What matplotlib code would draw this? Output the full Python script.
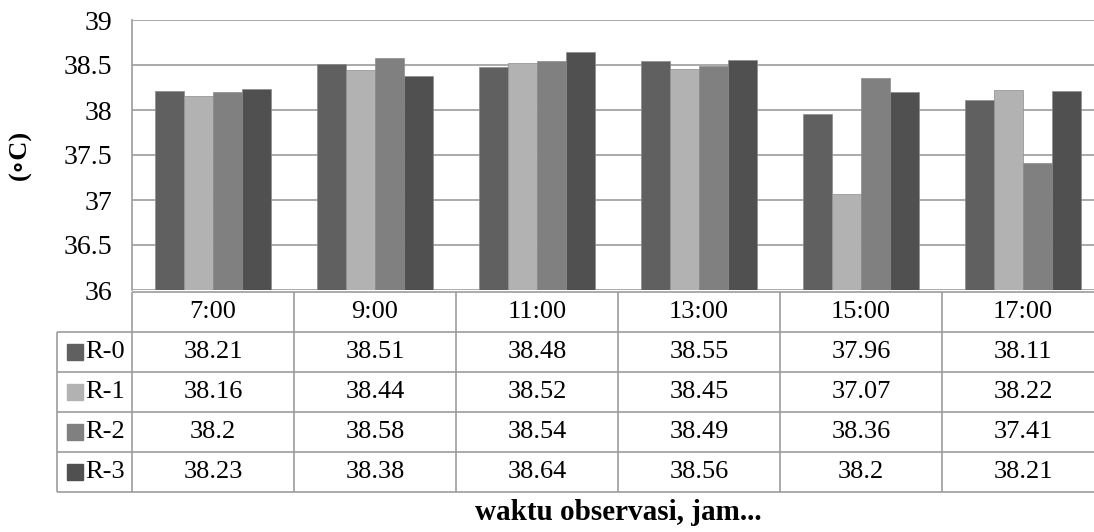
import numpy as np
import matplotlib.pyplot as plt

# data
times = ['7:00', '9:00', '11:00', '13:00', '15:00', '17:00']
series = ['R-0', 'R-1', 'R-2', 'R-3']
r0 = [38.21, 38.51, 38.48, 38.55, 37.96, 38.11]
r1 = [38.16, 38.44, 38.52, 38.45, 37.07, 38.22]
r2 = [38.2, 38.58, 38.54, 38.49, 38.36, 37.41]
r3 = [38.23, 38.38, 38.64, 38.56, 38.2, 38.21]
colors = ['#606060', '#b2b2b2', '#808080', '#505050']

values = [r0, r1, r2, r3]

plt.rcParams['font.family'] = ['Liberation Serif', 'DejaVu Serif']
grid_c = '#9c9c9c'

W, H = 1094, 532
fig = plt.figure(figsize=(W / 100, H / 100), dpi=100)

# plot area (right side is cut off in the reference)
left, right, top, bottom = 132, 1104, 20, 290
ax = fig.add_axes([left / W, 1 - bottom / H, (right - left) / W, (bottom - top) / H])

x = np.arange(len(times))
bw = 0.18
for i, (vals, c) in enumerate(zip(values, colors)):
    ax.bar(x + (i - 1.5) * bw, np.array(vals) - 36, bottom=36, width=bw,
           color=c, edgecolor='#8c8c8c', linewidth=0.5, zorder=3)

ax.set_xlim(-0.5, len(times) - 0.5)
ax.set_ylim(36, 39)
ax.set_yticks(np.arange(36, 39.01, 0.5))
ax.set_yticklabels(['%g' % v for v in np.arange(36, 39.01, 0.5)], fontsize=20)
ax.tick_params(axis='y', length=0, pad=14)
ax.set_xticks([])
ax.grid(axis='y', color=grid_c, linewidth=1.2, zorder=0)
for s in ['top', 'right', 'bottom']:
    ax.spines[s].set_visible(False)
ax.spines['left'].set_color(grid_c)
ax.spines['left'].set_linewidth(1.2)

ax.text(-0.115, 0.5, '(∘C)', transform=ax.transAxes, rotation=90,
        ha='center', va='center', fontsize=19, fontweight='bold')

# data table
tleft, ttop, tbottom = 57, 292, 492
tax = fig.add_axes([tleft / W, 1 - tbottom / H, (right - tleft) / W, (tbottom - ttop) / H])
xl = -0.5 - (left - tleft) / 162
tax.set_xlim(xl, len(times) - 0.5)
tax.set_ylim(5, 0)
tax.axis('off')

lw = 1.2
tax.hlines(0, -0.5, len(times) - 0.5, color=grid_c, lw=lw, clip_on=False)
for r in range(1, 6):
    tax.hlines(r, xl, len(times) - 0.5, color=grid_c, lw=lw, clip_on=False)
for k in range(len(times) + 1):
    tax.vlines(k - 0.5, 0, 5, color=grid_c, lw=lw, clip_on=False)
tax.vlines(xl, 1, 5, color=grid_c, lw=lw, clip_on=False)

for j, t in enumerate(times):
    tax.text(j, 0.5, t, ha='center', va='center', fontsize=19)
for i, (name, vals, c) in enumerate(zip(series, values, colors)):
    for j, v in enumerate(vals):
        tax.text(j, i + 1.5, '%g' % v, ha='center', va='center', fontsize=19)
    tax.plot(xl + 17.5 / 162, i + 1.5, marker='s', markersize=11, color=c, clip_on=False)
    tax.text(xl + 28 / 162, i + 1.5, name, ha='left', va='center', fontsize=19)

fig.text((left + right) / 2 / W, 1 - 512 / H, 'waktu observasi, jam...',
         ha='center', va='center', fontsize=21, fontweight='bold')

fig.savefig('out.png', dpi=100)
